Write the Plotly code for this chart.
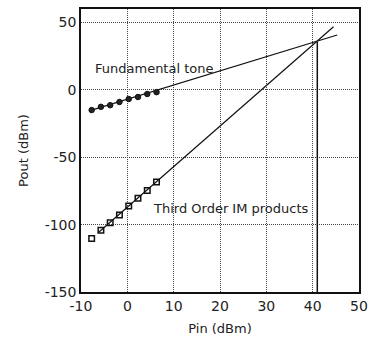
import plotly.graph_objects as go

# Measured input power sweep (dBm)
pin = [-7.7, -5.7, -3.7, -1.7, 0.3, 2.3, 4.3, 6.3]
# Fundamental output power (dBm)
fund_out = [-15.0, -12.6, -11.4, -9.0, -6.8, -5.3, -3.1, -1.7]
# Third order intermodulation output power (dBm)
im3_out = [-110.3, -104.2, -98.7, -92.8, -86.1, -80.5, -74.7, -68.4]

# Extrapolated trend lines (endpoints in dBm)
fund_fit_x = [-7.7, 45.3]
fund_fit_y = [-15.0, 40.7]
im3_fit_x = [-6.3, 44.5]
im3_fit_y = [-106.0, 46.8]

# Third order intercept point
ip3_x = 41.0
ip3_y = 35.5

y_min, y_max = -150, 60
x_ticks = [-10, 0, 10, 20, 30, 40, 50]
y_ticks = [-150, -100, -50, 0, 50]

fig = go.Figure()

fig.add_trace(go.Scatter(x=fund_fit_x, y=fund_fit_y, mode="lines",
                         line=dict(color="#111", width=1.2), showlegend=False))
fig.add_trace(go.Scatter(x=im3_fit_x, y=im3_fit_y, mode="lines",
                         line=dict(color="#111", width=1.2), showlegend=False))
fig.add_trace(go.Scatter(x=[ip3_x, ip3_x], y=[ip3_y, y_min], mode="lines",
                         line=dict(color="#111", width=1.5), showlegend=False))

fig.add_trace(go.Scatter(x=pin, y=fund_out, mode="markers",
                         marker=dict(symbol="circle", size=5.5, color="#222",
                                     line=dict(color="#111", width=1)),
                         showlegend=False))
fig.add_trace(go.Scatter(x=pin, y=im3_out, mode="markers",
                         marker=dict(symbol="square-open", size=5.5, color="#111",
                                     line=dict(color="#111", width=1.5)),
                         showlegend=False))

text_font = dict(family="DejaVu Sans, sans-serif", size=13, color="#222")
tick_font = dict(family="DejaVu Sans, sans-serif", size=14, color="#222")

fig.add_annotation(x=-7.4, y=16, text="Fundamental tone", showarrow=False,
                   xanchor="left", yanchor="middle", font=text_font)
fig.add_annotation(x=5.0, y=-88, text="Third Order IM products", showarrow=False,
                   xanchor="left", yanchor="middle", font=text_font)

axis_style = dict(showgrid=True, gridcolor="#444", griddash="1px,1px", gridwidth=1,
                  showline=True, linecolor="#111", linewidth=1.5, mirror=True,
                  zeroline=False, ticks="", tickfont=tick_font,
                  title_font=text_font)

fig.update_xaxes(range=[-10, 50], tickvals=x_ticks,
                 ticktext=[str(v) for v in x_ticks],
                 title_text="Pin (dBm)", title_standoff=11, **axis_style)
fig.update_yaxes(range=[y_min, y_max], tickvals=y_ticks,
                 ticktext=[str(v) for v in y_ticks],
                 title_text="Pout (dBm)", title_standoff=13, **axis_style)

fig.update_layout(width=375, height=341,
                  margin=dict(l=81, r=8, t=7, b=45),
                  plot_bgcolor="white", paper_bgcolor="white",
                  font=text_font)

fig.write_html("out.html")
